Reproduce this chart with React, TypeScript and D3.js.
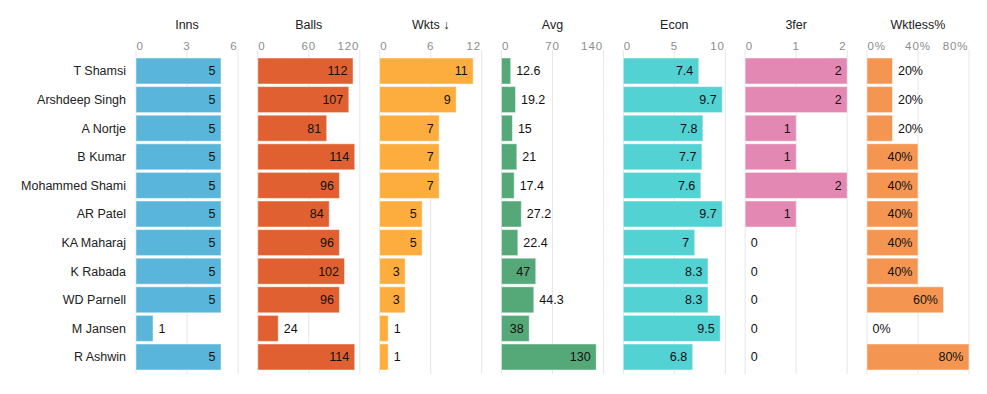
import React from "react";
import * as d3 from "d3";

const names = ["T Shamsi", "Arshdeep Singh", "A Nortje", "B Kumar", "Mohammed Shami", "AR Patel", "KA Maharaj", "K Rabada", "WD Parnell", "M Jansen", "R Ashwin"];
const inns = [5, 5, 5, 5, 5, 5, 5, 5, 5, 1, 5];
const balls = [112, 107, 81, 114, 96, 84, 96, 102, 96, 24, 114];
const wkts = [11, 9, 7, 7, 7, 5, 5, 3, 3, 1, 1];
const avg = [12.6, 19.2, 15, 21, 17.4, 27.2, 22.4, 47, 44.3, 38, 130];
const econ = [7.4, 9.7, 7.8, 7.7, 7.6, 9.7, 7, 8.3, 8.3, 9.5, 6.8];
const threeFer = [2, 2, 1, 1, 2, 1, 0, 0, 0, 0, 0];
const wktless = [20, 20, 20, 40, 40, 40, 40, 40, 60, 0, 80];

const headers = ["Inns", "Balls", "Wkts \u2193", "Avg", "Econ", "3fer", "Wktless%"];
const domainMax = [6, 120, 12, 140, 10, 2, 80];
const tickValues = [[0, 3, 6], [0, 60, 120], [0, 6, 12], [0, 70, 140], [0, 5, 10], [0, 1, 2], [0, 40, 80]];
const colors = ["#59b6da", "#e16031", "#fdad3d", "#55a878", "#53d2d4", "#e388b2", "#f49652"];
const series = [inns, balls, wkts, avg, econ, threeFer, wktless];
const suffix = ["", "", "", "", "", "", "%"];

const FONT = "'Liberation Sans', Arial, Helvetica, sans-serif";
const FS = 12.5;

let ctx: CanvasRenderingContext2D | null = null;
function textWidth(s: string): number {
  if (!ctx) {
    const c = document.createElement("canvas");
    ctx = c.getContext("2d");
  }
  if (!ctx) return s.length * 6.7;
  ctx.font = `12px ${FONT}`;
  return ctx.measureText(s).width;
}

export default function App() {
  const W = 987, H = 394;
  const panelX = d3.scaleLinear().domain([0, 6]).range([136, 136 + 6 * 121.83]);
  const panelW = 102;
  const y = d3.scaleBand<string>().domain(names).range([56.7, 371.3]).paddingInner(0.091).paddingOuter(0.0455);
  const bw = y.bandwidth();

  return (
    <svg width={W} height={H} style={{ position: "absolute", left: 0, top: 0, background: "#fff" }} fontFamily={FONT}>
      {names.map((n) => (
        <text key={n} x={126} y={(y(n) as number) + bw / 2} dy="0.35em" textAnchor="end" fontSize={FS} fill="#222">{n}</text>
      ))}
      {series.map((vals, i) => {
        const x0 = panelX(i);
        const x = d3.scaleLinear().domain([0, domainMax[i]]).range([x0, x0 + panelW]);
        const ticks = tickValues[i];
        return (
          <g key={i}>
            <text x={x0 + panelW / 2} y={29} textAnchor="middle" fontSize={FS} fill="#222">{headers[i]}</text>
            {ticks.map((t, j) => (
              <g key={j}>
                <line x1={x(t)} x2={x(t)} y1={50} y2={374} stroke="#e3e6ea" strokeWidth={1} />
                <text x={x(t) + (j === 0 ? 0.5 : j === ticks.length - 1 ? -0.5 : 0)} y={49.5}
                  textAnchor={j === 0 ? "start" : j === ticks.length - 1 ? "end" : "middle"}
                  fontSize={11.5} letterSpacing={0.9} fill="#8c8c8c">{`${t}${suffix[i]}`}</text>
              </g>
            ))}
            {vals.map((v, k) => {
              const yy = y(names[k]) as number;
              const w = x(v) - x0;
              const label = `${v}${suffix[i]}`;
              const tw = textWidth(label);
              const inside = tw + 12 < w;
              return (
                <g key={k}>
                  {v > 0 && (
                    <rect x={x0} y={yy} width={w} height={bw} fill={colors[i]} stroke="#ffffff" strokeOpacity={0.45} strokeWidth={1} />
                  )}
                  <text x={inside ? x(v) - 5.5 : x(v) + 5.5} y={yy + bw / 2} dy="0.35em"
                    textAnchor={inside ? "end" : "start"} fontSize={FS} fill="#111">{label}</text>
                </g>
              );
            })}
          </g>
        );
      })}
    </svg>
  );
}
